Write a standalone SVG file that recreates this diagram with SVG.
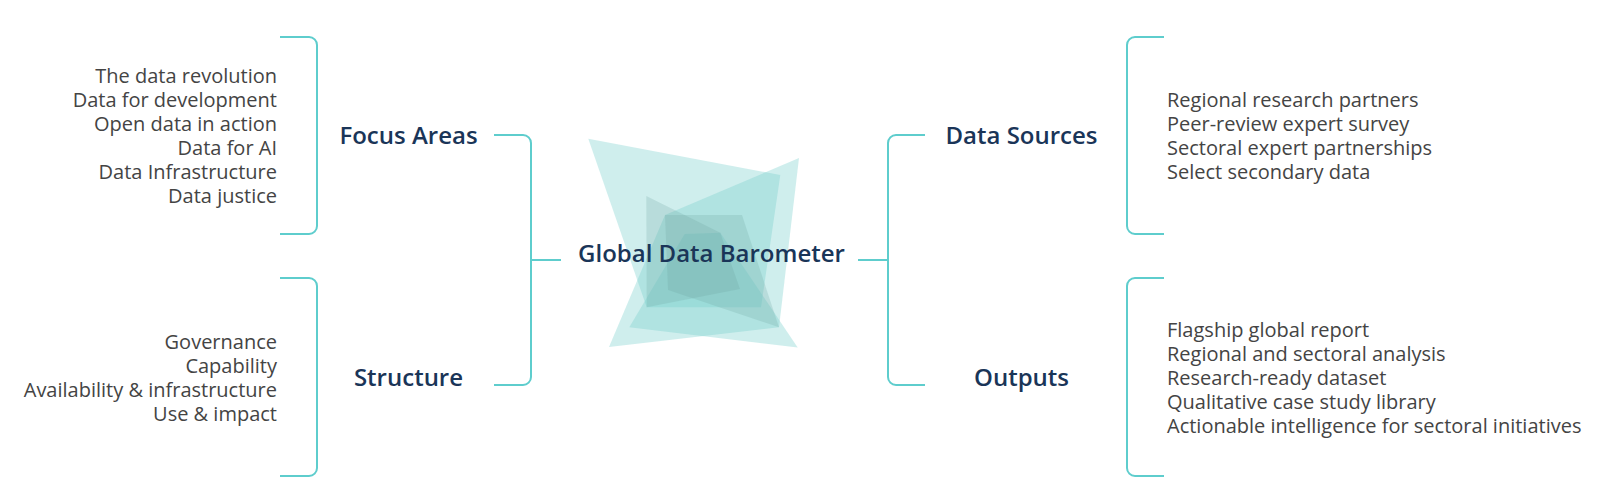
<svg xmlns="http://www.w3.org/2000/svg" width="1611" height="500" viewBox="0 0 1611 500">
<style>
.c{fill:none;stroke:#5ecdcd;stroke-width:2}
.i{font-family:"Open Sans",sans-serif;font-size:20px;fill:#444}
.e{text-anchor:end}
.h{font-family:"Open Sans",sans-serif;font-size:24px;font-weight:600;fill:#1a3558;text-anchor:middle}
.p{fill:#76cecc;fill-opacity:.35}
.q{fill:#69a09b;fill-opacity:.22}
</style>
<rect width="1611" height="500" fill="#fff"/>
<g id="chart">
<polygon class="p" points="588.3,138.7 780.3,175 761,307.3 646.7,307.3"/>
<polygon class="p" points="609,347 665,215 799,158 779,327.3"/>
<polygon class="p" points="629.3,327.3 684.7,234 720.3,232.7 797.7,347.5"/>
<polygon class="q" points="665,215 742,215 779,327.3 668,290"/>
<polygon class="q" points="646.3,196 720.3,232.7 740,289 646.7,307.3"/>
</g>
<g id="connectors">
<path class="c" d="M280 37H309a8 8 0 0 1 8 8V226a8 8 0 0 1 -8 8H280"/>
<path class="c" d="M280 278H309a8 8 0 0 1 8 8V468a8 8 0 0 1 -8 8H280"/>
<path class="c" d="M494 135H523a8 8 0 0 1 8 8V377a8 8 0 0 1 -8 8H494"/>
<path class="c" d="M531 260H561"/>
<path class="c" d="M925 135H896a8 8 0 0 0 -8 8V377a8 8 0 0 0 8 8H925"/>
<path class="c" d="M858 260H888"/>
<path class="c" d="M1164 37H1135a8 8 0 0 0 -8 8V226a8 8 0 0 0 8 8H1164"/>
<path class="c" d="M1164 278H1135a8 8 0 0 0 -8 8V468a8 8 0 0 0 8 8H1164"/>
</g>
<g id="focus-items">
<text class="i e" x="277" y="83">The data revolution</text>
<text class="i e" x="277" y="107">Data for development</text>
<text class="i e" x="277" y="131">Open data in action</text>
<text class="i e" x="277" y="155">Data for AI</text>
<text class="i e" x="277" y="179">Data Infrastructure</text>
<text class="i e" x="277" y="203">Data justice</text>
</g>
<g id="structure-items">
<text class="i e" x="277" y="349">Governance</text>
<text class="i e" x="277" y="373">Capability</text>
<text class="i e" x="277" y="397">Availability &amp; infrastructure</text>
<text class="i e" x="277" y="421">Use &amp; impact</text>
</g>
<g id="focus-areas"><text class="h" x="408.5" y="144">Focus Areas</text></g>
<g id="structure"><text class="h" x="408.5" y="386">Structure</text></g>
<g id="global-data-barometer"><text class="h" x="711.5" y="262">Global Data Barometer</text></g>
<g id="data-sources"><text class="h" x="1021.5" y="144">Data Sources</text></g>
<g id="outputs"><text class="h" x="1021.5" y="386">Outputs</text></g>
<g id="source-items">
<text class="i" x="1167" y="107">Regional research partners</text>
<text class="i" x="1167" y="131">Peer-review expert survey</text>
<text class="i" x="1167" y="155">Sectoral expert partnerships</text>
<text class="i" x="1167" y="179">Select secondary data</text>
</g>
<g id="output-items">
<text class="i" x="1167" y="337">Flagship global report</text>
<text class="i" x="1167" y="361">Regional and sectoral analysis</text>
<text class="i" x="1167" y="385">Research-ready dataset</text>
<text class="i" x="1167" y="409">Qualitative case study library</text>
<text class="i" x="1167" y="433">Actionable intelligence for sectoral initiatives</text>
</g>
</svg>
